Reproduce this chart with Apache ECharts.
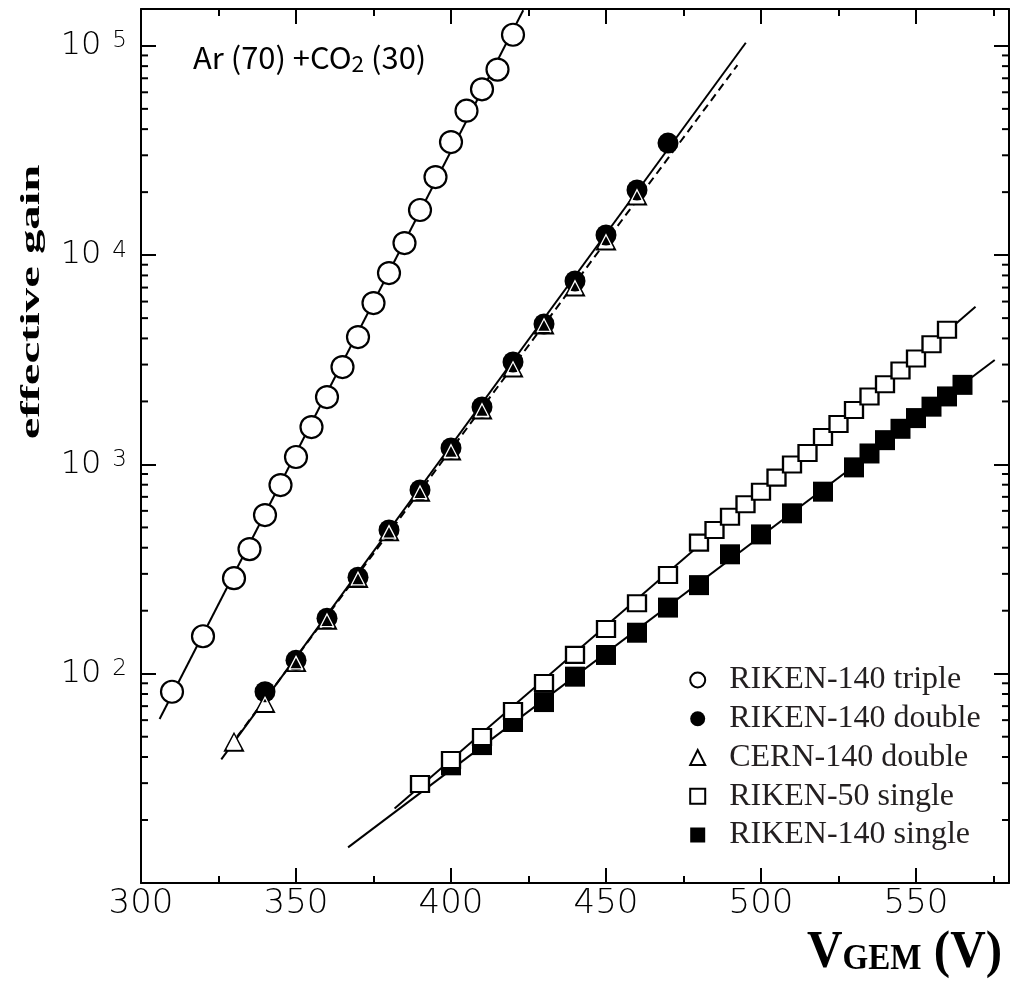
<!DOCTYPE html>
<html><head><meta charset="utf-8">
<script src="https://cdn.jsdelivr.net/npm/echarts@6/dist/echarts.min.js"></script>
<style>html,body{margin:0;padding:0;background:#fff}#c{width:1012px;height:982px}</style>
</head><body><div id="c"></div>
<script>
// ---- data ----
const tripleV = [310,320,330,335,340,345,350,355,360,365,370,375,380,385,390,395,400,405,410,415,420];
const tripleG = [82,151,286,394,573,797,1085,1509,2099,2920,4061,5904,8213,11423,16430,23610,34700,49000,62000,77000,113000];

const doubleV = [340,350,360,370,380,390,400,410,420,430,440,450,460,470];
const doubleG = [82,116,184,289,486,755,1198,1880,3086,4686,7521,12480,20470,34310];

const cernV = [330,340,350,360,370,380,390,400,410,420,430,440,450,460];
const cernG = [47,72,113,180,285,476,736,1159,1819,2887,4634,7040,11680,19160];

const r50V = [390,400,410,420,430,440,450,460,470,480,485,490,495,500,505,510,515,520,525,530,535,540,545,550,555,560];
const r50G = [29.7,38.7,49.8,66.3,90.3,123,163.5,217,296,423,486,562,645,741,865,1000,1135,1352,1560,1819,2110,2415,2810,3210,3750,4400];

const r140V = [400,410,420,430,440,450,460,470,480,490,500,510,520,530,535,540,545,550,555,560,565];
const r140G = [36.5,45.6,58.8,73.2,96.8,122.9,157,207,265,372,463,584,741,968,1128,1306,1480,1665,1888,2113,2400];

// fitted lines (end points)
const tripleFitV = [306, 423.3],  tripleFitG = [60.8, 148000];
const doubleFitV = [325.9, 495.1], doubleFitG = [39, 103500];
const cernFitV = [331, 492.4],    cernFitG = [50, 80900];
const r50FitV = [381.8, 569.2],   r50FitG = [22.7, 5675];
const r140FitV = [366.8, 575.4],  r140FitG = [14.8, 3153];

// axis ticks
const xTicks = [300,350,400,450,500,550];
const yDecades = [100,1000,10000,100000];
const yMinorTicks = [20,30,40,50,60,70,80,90,200,300,400,500,600,700,800,900,
  2000,3000,4000,5000,6000,7000,8000,9000,20000,30000,40000,50000,60000,70000,80000,90000];

const names = ['RIKEN-140 triple','RIKEN-140 double','CERN-140 double','RIKEN-50 single','RIKEN-140 single'];

function zip(a,b){return a.map((v,i)=>[v,b[i]]);}

const chart = echarts.init(document.getElementById('c'), null, {renderer:'canvas'});
const tickFont = 'DejaVu Sans';
const axisBase = {
  type:'value', min:300, max:580, interval:50,
  axisLine:{show:true, onZero:false, lineStyle:{color:'#000', width:2}},
  axisTick:{show:true, inside:true, length:15, lineStyle:{color:'#000', width:2}},
  minorTick:{show:true, splitNumber:2, length:7, lineStyle:{color:'#000', width:2}},
  splitLine:{show:false}, minorSplitLine:{show:false}
};
const yBase = {
  type:'log', logBase:10, min:10, max:150000,
  axisLine:{show:true, onZero:false, lineStyle:{color:'#000', width:2}},
  axisTick:{show:true, inside:true, length:15, lineStyle:{color:'#000', width:2}},
  minorTick:{show:false}, splitLine:{show:false}
};

function lineSeries(v,g,dashed){
  return {type:'line', data:zip(v,g), symbol:'none', silent:true, z:1,
    lineStyle:{color:'#000', width:2, type: dashed ? [8,5] : 'solid'}, animation:false};
}

const option = {
  animation:false,
  backgroundColor:'#fff',
  grid:{left:141, top:9, width:875, height:874, containLabel:false},
  xAxis:[
    Object.assign({}, axisBase, {position:'bottom',
      axisLabel:{show:true, margin:4, color:'#000', fontFamily:tickFont, fontSize:34, fontWeight:200,
        formatter:v => xTicks.indexOf(v) >= 0 ? String(v) : ''}}),
    Object.assign({}, axisBase, {position:'top', axisLabel:{show:false}})
  ],
  yAxis:[
    Object.assign({}, yBase, {position:'left',
      axisLabel:{show:true, margin:14, color:'#000',
        formatter:function(v){
          const e = Math.round(Math.log10(v));
          if (yDecades.indexOf(Math.round(v)) < 0) return '';
          return '{b|10}{s|' + e + '}';
        },
        rich:{
          b:{fontFamily:tickFont, fontSize:32, fontWeight:200, lineHeight:32, padding:[8,0,8,0], color:'#000'},
          s:{fontFamily:tickFont, fontSize:23, fontWeight:200, lineHeight:23, verticalAlign:'top', padding:[0,0,0,11], color:'#000'}
        }}}),
    Object.assign({}, yBase, {position:'right', axisLabel:{show:false}})
  ],
  legend:{
    orient:'vertical', left:689.2, top:664, padding:0, itemWidth:15, itemHeight:15, itemGap:6.75,
    selectedMode:false,
    textStyle:{fontFamily:'Liberation Serif', fontSize:32, color:'#231f20', lineHeight:32, padding:[0,0,0,19]},
    data:names
  },
  graphic:[
    {type:'text', x:193, y:57.5, scaleX:1.03, z:10,
      style:{text:'{n|Ar (70) +CO}{sub|2}{n| (30)}', align:'left', verticalAlign:'middle',
        rich:{
          n:{fontFamily:'Noto Sans CJK JP', fontSize:30, lineHeight:30, fill:'#000'},
          sub:{fontFamily:'Noto Sans CJK JP', fontSize:22, lineHeight:22, padding:[12,0,0,0], fill:'#000'}
        }}},
    {type:'text', x:32, y:302, rotation:Math.PI/2, scaleX:1.74, z:10,
      style:{text:'effective gain', align:'center', verticalAlign:'middle',
        fontFamily:'Liberation Serif', fontWeight:'bold', fontSize:28, fill:'#000'}},
    {type:'text', x:1002, y:954, scaleX:0.945, z:10,
      style:{text:'{v|V}{g|GEM}{v| (V)}', align:'right', verticalAlign:'middle',
        rich:{
          v:{fontFamily:'Liberation Serif', fontWeight:'bold', fontSize:52, lineHeight:52, verticalAlign:'bottom', fill:'#000'},
          g:{fontFamily:'Liberation Serif', fontWeight:'bold', fontSize:35, lineHeight:35, verticalAlign:'bottom', padding:[0,0,3,0], fill:'#000'}
        }}}
  ],
  series:[
    lineSeries(tripleFitV, tripleFitG, false),
    lineSeries(doubleFitV, doubleFitG, false),
    lineSeries(cernFitV, cernFitG, true),
    lineSeries(r50FitV, r50FitG, false),
    lineSeries(r140FitV, r140FitG, false),
    {type:'custom', silent:true, z:1, clip:false, data:yMinorTicks.map(v=>[300,v]),
      renderItem:function(params, api){
        const cs = params.coordSys;
        const y = api.coord([api.value(0), api.value(1)])[1];
        const st = {stroke:'#000', lineWidth:2};
        return {type:'group', children:[
          {type:'line', shape:{x1:cs.x, y1:y, x2:cs.x+7, y2:y}, style:st},
          {type:'line', shape:{x1:cs.x+cs.width-7, y1:y, x2:cs.x+cs.width, y2:y}, style:st}
        ]};
      }},
    {name:names[4], type:'scatter', data:zip(r140V, r140G), symbol:'rect', symbolSize:20, z:3,
      itemStyle:{color:'#000', borderColor:'#000', borderWidth:0, opacity:1}},
    {name:names[3], type:'scatter', data:zip(r50V, r50G), symbol:'rect', symbolSize:[18,16], z:4,
      itemStyle:{color:'#fff', borderColor:'#000', borderWidth:2.2, opacity:1}},
    {name:names[0], type:'scatter', data:zip(tripleV, tripleG), symbol:'circle', symbolSize:22, z:4,
      itemStyle:{color:'#fff', borderColor:'#000', borderWidth:2.2, opacity:1}},
    {name:names[2], type:'scatter', data:zip(cernV, cernG), symbol:'triangle', symbolSize:[18,17], z:3,
      itemStyle:{color:'#fff', borderColor:'#000', borderWidth:2, opacity:1}},
    {name:names[1], type:'scatter', data:zip(doubleV, doubleG), symbol:'circle', symbolSize:21, z:4,
      itemStyle:{color:'#000', borderColor:'#000', borderWidth:0, opacity:1}},
    // inner white outline of the CERN triangles, visible where they sit on the black circles
    {type:'scatter', silent:true, data:zip(cernV, cernG), symbol:'triangle', symbolSize:[13,12.5], z:5,
      itemStyle:{color:'rgba(0,0,0,0)', borderColor:'#fff', borderWidth:1.3, opacity:1}}
  ]
};
chart.setOption(option);
</script></body></html>
